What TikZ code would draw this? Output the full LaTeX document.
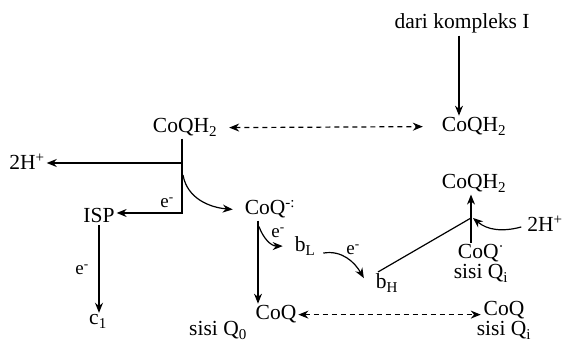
\documentclass[tikz,border=0pt]{standalone}
\usepackage{fontspec}
\setmainfont{Liberation Serif}
\usetikzlibrary{arrows.meta}

\begin{document}
\begin{tikzpicture}[x=1pt,y=1pt,line width=1.2pt,
    >={Stealth[length=10pt,width=8pt]},
    every node/.style={inner sep=1.5pt,font=\fontsize{21.5}{24}\selectfont},
    lbl/.style={anchor=base},
    sisi/.style={anchor=base,align=center,font=\fontsize{21.5}{20}\selectfont},
    elbl/.style={font=\fontsize{19}{22}\selectfont},
    dashline/.style={dash pattern=on 5pt off 4pt}]
    \clip (0,0) rectangle (563,342);

    % Sisi Q0 (kiri).
    \node[lbl] (dari) at (462,313) {dari kompleks I};
    \node[lbl] (qh2a) at (185,209) {CoQH\textsubscript{2}};
    \node[lbl] (qh2b) at (474,210) {CoQH\textsubscript{2}};
    \node[lbl] (hl) at (27,172) {2H\textsuperscript{+}};
    \node[lbl] (isp) at (99,119) {ISP};
    \node[lbl] (c1) at (98,17) {c\textsubscript{1}};
    \node[lbl] (sqa) at (270,127) {CoQ\textsuperscript{-:}};
    \node[lbl] (cq0) at (276,22) {CoQ};
    \node[lbl] (sq0) at (218,6) {sisi Q\textsubscript{0}};
    \node[lbl] (bl) at (305,90) {b\textsubscript{L}};
    \node[lbl] (bh) at (387,53) {b\textsubscript{H}};

    % Sisi Qi (kanan).
    \node[lbl] (qh2c) at (474,153) {CoQH\textsubscript{2}};
    \node[sisi] (sqb) at (481,63) {CoQ\textsuperscript{·}\\sisi Q\textsubscript{i}};
    \node[lbl] (hr) at (545,110) {2H\textsuperscript{+}};
    \node[sisi] (cqr) at (504,6) {CoQ\\sisi Q\textsubscript{i}};

    \node[elbl] (e1) at (167,139) {e\textsuperscript{-}};
    \node[elbl] (e2) at (82,72) {e\textsuperscript{-}};
    \node[elbl] (e3) at (278,109) {e\textsuperscript{-}};
    \node[elbl] (e4) at (353,92) {e\textsuperscript{-}};

    \coordinate (jA) at (182,179);
    \coordinate (jB) at (182,129);
    \coordinate (jC) at (183,167);
    \coordinate (jD) at (471,124);

    % Panah.
    \draw[->] ([xshift=-3pt]dari.south) -- ([xshift=-3pt]dari.south |- qh2b.north);
    \draw[<->,dashline] ([xshift=10pt]qh2a.east) -- ([xshift=-17pt]qh2b.west);
    \draw[->] (qh2a.south -| jB) -- (jB) -- (jB -| isp.east);
    \draw[->] (jA) -- (jA -| hl.east);
    \draw[->] (jC) to[out=-80,in=175] ([xshift=-10pt]sqa.west);
    \draw[->] (isp.south) -- (isp.south |- c1.north);
    \draw[->] ([xshift=-12pt]sqa.south) -- ([xshift=-12pt]sqa.south |- cq0.north);
    \draw[->] ([xshift=-11pt,yshift=-6pt]sqa.south) to[out=-70,in=180]
        ([xshift=-10pt]bl.west);
    \draw[->] ([xshift=6pt,yshift=-7pt]bl.east) to[out=10,in=120]
        ([xshift=-10pt,yshift=5pt]bh.west);
    \draw ([xshift=-9pt]bh.north) -- (jD);
    \draw[->] (sqb.north -| jD) -- (jD |- qh2c.south);
    \draw[->] ([xshift=-4pt,yshift=-3pt]hr.west) to[out=195,in=-40] ([xshift=2pt]jD);
    \draw[<->,dashline,shorten >=-6pt] (cq0.east) -- (cq0.east -| cqr.west);
\end{tikzpicture}
\end{document}
